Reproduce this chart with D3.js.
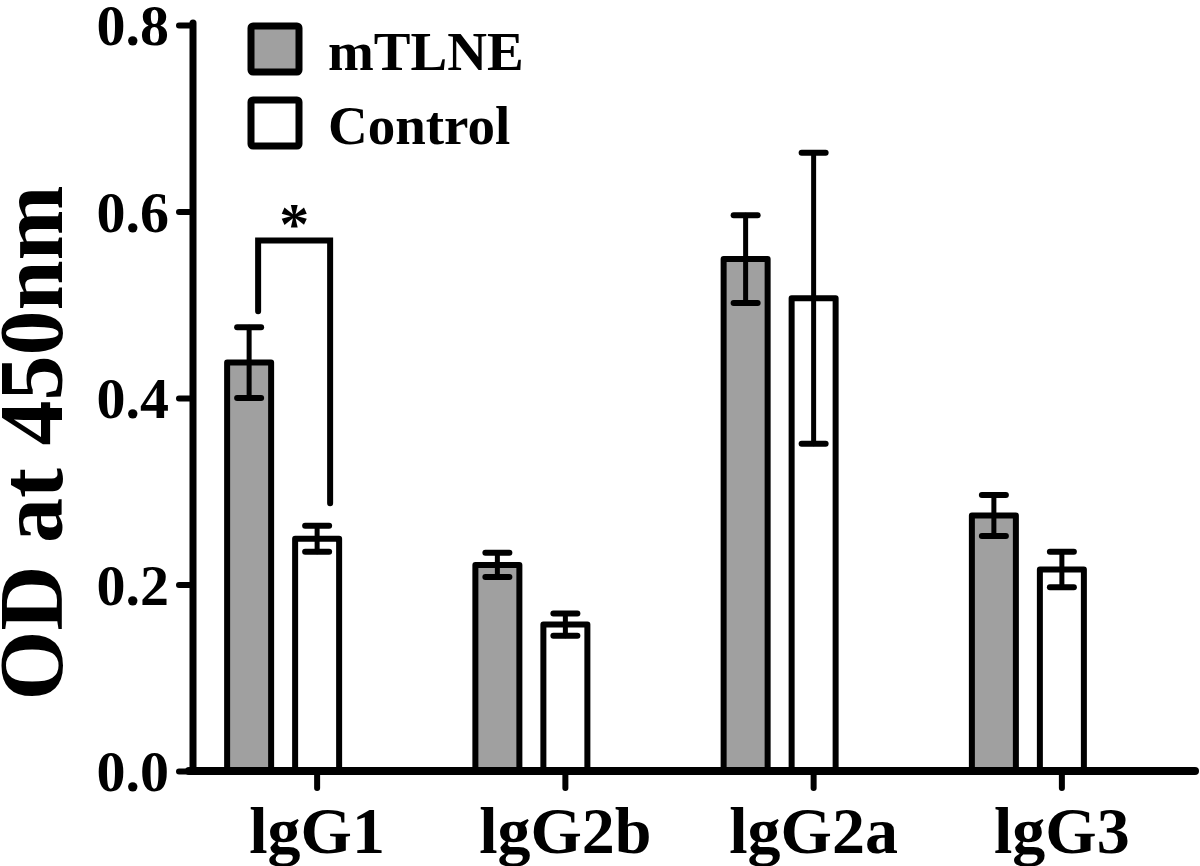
<!DOCTYPE html>
<html>
<head>
<meta charset="utf-8">
<script src="https://cdn.jsdelivr.net/npm/d3@7"></script>
<style>
  html, body { margin: 0; padding: 0; background: #fff; }
  svg { display: block; }
  text { font-family: "Liberation Serif", "Times New Roman", serif; font-weight: bold; fill: #000; }
</style>
</head>
<body>
<svg id="chart" width="1200" height="866"></svg>
<script>
// ---- data ----
const categories = ["lgG1", "lgG2b", "lgG2a", "lgG3"];
const series = ["mTLNE", "Control"];
const mTLNE = [0.438, 0.221, 0.549, 0.274];
const mTLNEErr = [0.038, 0.013, 0.047, 0.022];
const control = [0.249, 0.157, 0.507, 0.216];
const controlErr = [0.014, 0.012, 0.156, 0.019];
const yTicks = [0.0, 0.2, 0.4, 0.6, 0.8];
const yTitle = "OD at 450nm";
// significance bracket: group, bracket top, left/right leg ends (values)
const sigCategory = "lgG1";
const sigTop = 0.569;
const sigLeftEnd = 0.493;
const sigRightEnd = 0.287;
const sigLabel = "*";

const fills = { "mTLNE": "#a0a0a0", "Control": "#ffffff" };

// ---- layout ----
const svg = d3.select("#chart");
const x0 = 193, xEnd = 1195, yBase = 771, yTop = 25;

const x = d3.scaleBand().domain(categories).range([193, 1186]).padding(0);
const sub = d3.scaleBand().domain(series).range([-102, 34]).padding(0);
const y = d3.scaleLinear().domain([0, 0.8]).range([yBase, yTop]);
const barW = 44;
const sw = 6;

const rows = [];
categories.forEach((c, i) => {
  rows.push({ cat: c, s: "mTLNE", v: mTLNE[i], e: mTLNEErr[i] });
  rows.push({ cat: c, s: "Control", v: control[i], e: controlErr[i] });
});
const cx = d => x(d.cat) + x.bandwidth() / 2 + sub(d.s) + sub.bandwidth() / 2;

// bars
svg.append("g").selectAll("rect").data(rows).join("rect")
  .attr("x", d => cx(d) - barW / 2)
  .attr("y", d => y(d.v))
  .attr("width", barW)
  .attr("height", d => y(0) - y(d.v))
  .attr("fill", d => fills[d.s])
  .attr("stroke", "#000")
  .attr("stroke-width", sw)
  .attr("stroke-linejoin", "round");

// error bars
const eg = svg.append("g").attr("stroke", "#000").attr("stroke-linecap", "round");
eg.selectAll("line.stem").data(rows).join("line").attr("class", "stem")
  .attr("x1", cx).attr("x2", cx)
  .attr("y1", d => y(d.v + d.e)).attr("y2", d => y(d.v - d.e))
  .attr("stroke-width", 5);
const capW = 24;
eg.selectAll("line.capt").data(rows).join("line").attr("class", "capt")
  .attr("x1", d => cx(d) - capW / 2).attr("x2", d => cx(d) + capW / 2)
  .attr("y1", d => y(d.v + d.e)).attr("y2", d => y(d.v + d.e))
  .attr("stroke-width", 6);
eg.selectAll("line.capb").data(rows).join("line").attr("class", "capb")
  .attr("x1", d => cx(d) - capW / 2).attr("x2", d => cx(d) + capW / 2)
  .attr("y1", d => y(d.v - d.e)).attr("y2", d => y(d.v - d.e))
  .attr("stroke-width", 6);

// y axis
const yAxis = d3.axisLeft(y).tickValues(yTicks).tickFormat(d3.format(".1f")).tickSize(14).tickPadding(10);
const ga = svg.append("g").attr("transform", `translate(${x0},0)`).call(yAxis);
ga.select(".domain").remove();
ga.selectAll(".tick line").attr("stroke", "#000").attr("stroke-width", 6).attr("stroke-linecap", "round");
ga.selectAll(".tick text").attr("font-size", 58).attr("font-family", "Liberation Serif, Times New Roman, serif")
  .attr("font-weight", "bold").attr("fill", "#000").attr("dy", "0.34em");
svg.append("line").attr("x1", x0).attr("x2", x0).attr("y1", yTop - 2).attr("y2", yBase)
  .attr("stroke", "#000").attr("stroke-width", 7).attr("stroke-linecap", "round");

// x axis
const xAxis = d3.axisBottom(x).tickSize(17).tickPadding(18);
const gx = svg.append("g").attr("transform", `translate(0,${yBase})`).call(xAxis);
gx.select(".domain").remove();
gx.selectAll(".tick line").attr("stroke", "#000").attr("stroke-width", 6).attr("stroke-linecap", "round");
gx.selectAll(".tick text").attr("font-size", 66).attr("font-family", "Liberation Serif, Times New Roman, serif")
  .attr("font-weight", "bold").attr("fill", "#000");
svg.append("line").attr("x1", x0 - 4).attr("x2", xEnd).attr("y1", yBase).attr("y2", yBase)
  .attr("stroke", "#000").attr("stroke-width", 8).attr("stroke-linecap", "round");

// y title
svg.append("text")
  .attr("transform", `translate(62,443) rotate(-90)`)
  .attr("text-anchor", "middle")
  .attr("font-size", 90)
  .text(yTitle);

// significance bracket
const gc = x(sigCategory) + x.bandwidth() / 2;
const lx = gc + sub("mTLNE") + sub.bandwidth() / 2 + 9;
const rx = gc + sub("Control") + sub.bandwidth() / 2 + 13;
svg.append("path")
  .attr("d", d3.line()([[lx, y(sigLeftEnd)], [lx, y(sigTop)], [rx, y(sigTop)], [rx, y(sigRightEnd)]]))
  .attr("fill", "none").attr("stroke", "#000").attr("stroke-width", 6)
  .attr("stroke-linecap", "round").attr("stroke-linejoin", "miter");
svg.append("text").attr("x", (lx + rx) / 2).attr("y", y(sigTop) + 4)
  .attr("text-anchor", "middle").attr("font-size", 60).text(sigLabel);

// legend
const lg = svg.append("g");
series.forEach((s, i) => {
  const ly = 26 + i * 74;
  lg.append("rect").attr("x", 251).attr("y", ly).attr("width", 48).attr("height", 46)
    .attr("fill", fills[s]).attr("stroke", "#000").attr("stroke-width", 7).attr("rx", 2);
  lg.append("text").attr("x", 328).attr("y", ly + 44).attr("font-size", 55).text(s);
});
</script>
</body>
</html>
